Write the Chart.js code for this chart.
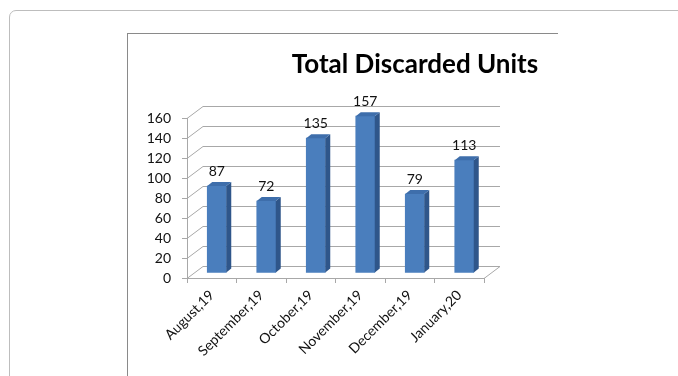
<!DOCTYPE html>
<html lang="en">
<head>
    <meta charset="UTF-8">
    <title>Total Discarded Units</title>
    <script src="https://cdn.jsdelivr.net/npm/chart.js"></script>
    <style>
        html, body {
            margin: 0;
            padding: 0;
            background: white;
            overflow: hidden;
            width: 678px;
            height: 376px;
        }
        /* outer panel with rounded corner */
        #panel {
            position: absolute;
            left: 9px;
            top: 10px;
            width: 720px;
            height: 420px;
            border: 1px solid #bdbdbd;
            border-radius: 7px;
        }
        /* frame round the chart, only left and top edges show */
        #frame {
            position: absolute;
            left: 127px;
            top: 33px;
            width: 430px;
            height: 400px;
            border-left: 1px solid #8a8a8a;
            border-top: 1px solid #8a8a8a;
        }
        #chart {
            position: absolute;
            left: 0;
            top: 0;
        }
    </style>
</head>
<body>

<div id="panel"></div>
<div id="frame"></div>
<canvas id="chart" width="700" height="376"></canvas>

<script>
    const months = ['August,19', 'September,19', 'October,19', 'November,19', 'December,19', 'January,20'];
    const discarded = [87, 72, 135, 157, 79, 113];
    const yMin = 0, yMax = 160, yStep = 20;

    // fake 3D: wall depth, bar offset into the box, bar thickness in depth
    const WALL_DX = 16, WALL_DY = 12;
    const BAR_SHIFT_X = 5, BAR_SHIFT_Y = 5;
    const BAR_DX = 5, BAR_DY = 4;

    const frontColor = '#4a7ebd';
    const sideColor = '#2f568a';
    const topColor = '#3e6eab';
    const gridColor = '#a8a8a8';
    const textColor = '#111';

    const pseudo3d = {
        id: 'pseudo3d',
        beforeDatasetsDraw(chart) {
            const { ctx, chartArea, scales } = chart;
            const y = scales.y;
            ctx.save();
            ctx.strokeStyle = gridColor;
            ctx.lineWidth = 1;
            // back wall grid lines with the side wall diagonals
            for (let v = yMin; v <= yMax; v += yStep) {
                const py = Math.round(y.getPixelForValue(v)) + 0.5;
                ctx.beginPath();
                ctx.moveTo(chartArea.left, py);
                ctx.lineTo(chartArea.left + WALL_DX, py - WALL_DY);
                ctx.lineTo(chartArea.right + WALL_DX, py - WALL_DY);
                ctx.stroke();
            }
            // right edge of the floor
            const py0 = Math.round(y.getPixelForValue(yMin)) + 0.5;
            ctx.beginPath();
            ctx.moveTo(chartArea.right, py0);
            ctx.lineTo(chartArea.right + WALL_DX, py0 - WALL_DY);
            ctx.stroke();
            ctx.restore();

            // bars stand a little way into the box
            ctx.save();
            ctx.translate(BAR_SHIFT_X, -BAR_SHIFT_Y);
        },
        afterDatasetsDraw(chart) {
            const { ctx } = chart;
            const meta = chart.getDatasetMeta(0);
            meta.data.forEach((bar) => {
                const { x, y, base, width } = bar.getProps(['x', 'y', 'base', 'width'], true);
                const l = x - width / 2, r = x + width / 2;
                // side face
                ctx.fillStyle = sideColor;
                ctx.beginPath();
                ctx.moveTo(r, y);
                ctx.lineTo(r + BAR_DX, y - BAR_DY);
                ctx.lineTo(r + BAR_DX, base - BAR_DY);
                ctx.lineTo(r, base);
                ctx.closePath();
                ctx.fill();
                // top face
                ctx.fillStyle = topColor;
                ctx.beginPath();
                ctx.moveTo(l, y);
                ctx.lineTo(l + BAR_DX, y - BAR_DY);
                ctx.lineTo(r + BAR_DX, y - BAR_DY);
                ctx.lineTo(r, y);
                ctx.closePath();
                ctx.fill();
            });
            ctx.restore();

            // value labels above each bar
            ctx.save();
            ctx.font = '14px Lato';
            ctx.fillStyle = textColor;
            ctx.textAlign = 'center';
            ctx.textBaseline = 'middle';
            meta.data.forEach((bar, i) => {
                const { x, y } = bar.getProps(['x', 'y'], true);
                ctx.fillText(String(discarded[i]), x + BAR_SHIFT_X, y - BAR_SHIFT_Y - 15);
            });
            ctx.restore();
        }
    };

    const chart = new Chart(document.getElementById('chart'), {
        type: 'bar',
        data: {
            labels: months,
            datasets: [{
                data: discarded,
                backgroundColor: frontColor,
                borderWidth: 0,
                barThickness: 19
            }]
        },
        options: {
            responsive: false,
            animation: false,
            layout: { padding: { left: 130, right: 0, top: 0, bottom: 0 } },
            plugins: {
                legend: { display: false },
                tooltip: { enabled: false },
                title: {
                    display: true,
                    text: 'Total Discarded Units',
                    color: '#000',
                    font: { family: 'Lato', size: 26, weight: 'bold' },
                    padding: { top: 49, bottom: 38 }
                }
            },
            scales: {
                x: {
                    grid: { offset: true, drawOnChartArea: false, tickLength: 5, color: gridColor },
                    border: { color: gridColor },
                    ticks: {
                        minRotation: 45,
                        maxRotation: 45,
                        padding: 4,
                        color: textColor,
                        font: { family: 'Lato', size: 14 }
                    },
                    afterFit(scale) { scale.height = 98; }
                },
                y: {
                    min: yMin,
                    max: yMax,
                    grid: { drawOnChartArea: false, tickLength: 5, color: gridColor },
                    border: { color: gridColor },
                    ticks: {
                        stepSize: yStep,
                        padding: 11,
                        color: textColor,
                        font: { family: 'Lato', size: 14 }
                    },
                    afterFit(scale) { scale.width = 57; }
                },
                // empty right-hand axis that only reserves room beside the plot
                spacer: {
                    type: 'linear',
                    position: 'right',
                    grid: { display: false },
                    border: { display: false },
                    ticks: { display: false },
                    afterFit(scale) { scale.width = 216; }
                }
            }
        },
        plugins: [pseudo3d]
    });
</script>

</body>
</html>
